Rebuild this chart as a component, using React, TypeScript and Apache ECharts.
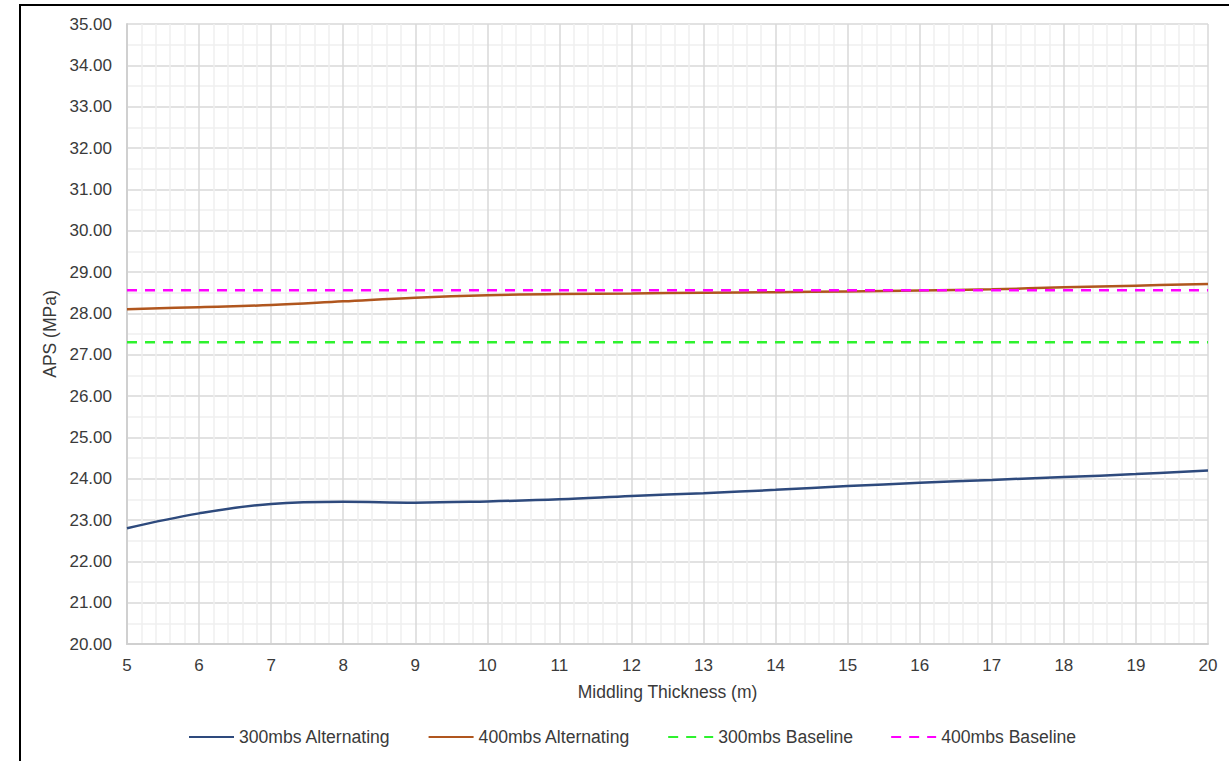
import React, { useEffect, useRef } from "react";
import * as echarts from "echarts";

const thickness = [5, 6, 7, 8, 9, 10, 11, 12, 13, 14, 15, 16, 17, 18, 19, 20];
const alt300 = [22.8, 23.16, 23.39, 23.44, 23.42, 23.45, 23.5, 23.58, 23.65, 23.73, 23.82, 23.9, 23.97, 24.04, 24.11, 24.2];
const alt400 = [28.1, 28.15, 28.2, 28.29, 28.38, 28.44, 28.47, 28.48, 28.5, 28.51, 28.53, 28.55, 28.58, 28.63, 28.67, 28.71];
const base300 = 27.3;
const base400 = 28.56;
const seriesNames = ["300mbs Alternating", "400mbs Alternating", "300mbs Baseline", "400mbs Baseline"];

const FONT = "'Liberation Sans', Arial, sans-serif";
const TXT = "#3a3a3a";

export default function App() {
  const ref = useRef<HTMLDivElement>(null);
  useEffect(() => {
    if (!ref.current) return;
    const chart = echarts.init(ref.current, null, { renderer: "svg" });
    const pairs = (ys: number[]) => thickness.map((x, i) => [x, ys[i]]);
    const flat = (v: number) => [[thickness[0], v], [thickness[thickness.length - 1], v]];
    chart.setOption({
      animation: false,
      backgroundColor: "#ffffff",
      textStyle: { fontFamily: FONT },
      graphic: [
        {
          type: "polyline",
          shape: { points: [[20, 770], [20, 5], [1240, 5]] },
          style: { stroke: "#000", lineWidth: 2, fill: "none" },
          silent: true,
        },
      ],
      grid: { left: 127, right: 21, top: 24, bottom: 117, containLabel: false },
      legend: {
        bottom: 10,
        left: 183,
        itemWidth: 45,
        itemHeight: 10,
        itemGap: 37,
        itemStyle: { opacity: 0 },
        textStyle: { fontFamily: FONT, fontSize: 17.6, color: TXT, padding: [0, 0, 0, 0] },
        data: seriesNames,
      },
      xAxis: {
        type: "value",
        min: 5,
        max: 20,
        interval: 1,
        name: "Middling Thickness (m)",
        nameLocation: "middle",
        nameGap: 39,
        nameTextStyle: { fontFamily: FONT, fontSize: 17.5, color: TXT },
        axisLine: { show: true, lineStyle: { color: "#d0d0d0", width: 2 } },
        axisTick: { show: false },
        axisLabel: { fontFamily: FONT, fontSize: 17, color: TXT, margin: 13 },
        splitLine: { show: true, lineStyle: { color: "#d9d9d9", width: 1.5 } },
        minorTick: { show: false, splitNumber: 5 },
        minorSplitLine: { show: true, lineStyle: { color: "#efefef", width: 1.5 } },
      },
      yAxis: {
        type: "value",
        min: 20,
        max: 35,
        interval: 1,
        name: "APS (MPa)",
        nameLocation: "middle",
        nameGap: 61,
        nameTextStyle: { fontFamily: FONT, fontSize: 17.5, color: TXT },
        axisLine: { show: true, lineStyle: { color: "#d0d0d0", width: 2 } },
        axisTick: { show: false },
        axisLabel: {
          fontFamily: FONT,
          fontSize: 17,
          color: TXT,
          margin: 15,
          formatter: (v: number) => v.toFixed(2),
        },
        splitLine: { show: true, lineStyle: { color: "#d9d9d9", width: 1.5 } },
        minorTick: { show: false, splitNumber: 2 },
        minorSplitLine: { show: true, lineStyle: { color: "#efefef", width: 1.5 } },
      },
      series: [
        {
          name: seriesNames[0],
          type: "line",
          data: pairs(alt300),
          smooth: 0.4,
          symbol: "none",
          lineStyle: { color: "#2e4a7d", width: 2.5 },
          itemStyle: { color: "#2e4a7d" },
        },
        {
          name: seriesNames[1],
          type: "line",
          data: pairs(alt400),
          smooth: 0.4,
          symbol: "none",
          lineStyle: { color: "#b0561e", width: 2.5 },
          itemStyle: { color: "#b0561e" },
        },
        {
          name: seriesNames[2],
          type: "line",
          data: flat(base300),
          symbol: "none",
          lineStyle: { color: "#2ef22e", width: 2.5, type: [10, 8] },
          itemStyle: { color: "#2ef22e" },
        },
        {
          name: seriesNames[3],
          type: "line",
          data: flat(base400),
          symbol: "none",
          lineStyle: { color: "#ff00ff", width: 2.5, type: [10, 8] },
          itemStyle: { color: "#ff00ff" },
        },
      ],
    });
    return () => chart.dispose();
  }, []);
  return (
    <div
      ref={ref}
      style={{ position: "absolute", left: 0, top: 0, width: 1229, height: 761 }}
    />
  );
}
